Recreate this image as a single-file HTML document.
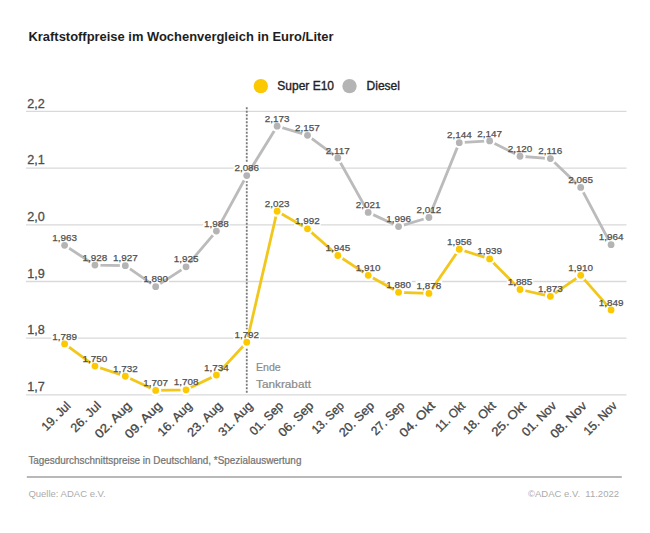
<!DOCTYPE html>
<html lang="de"><head><meta charset="utf-8"><title>Kraftstoffpreise im Wochenvergleich</title><style>html,body{margin:0;padding:0;background:#fff;width:650px;height:533px;overflow:hidden;}svg{display:block;}text{font-family:"Liberation Sans",sans-serif;}</style></head><body>
<svg width="650" height="533" viewBox="0 0 650 533">
<rect width="650" height="533" fill="#fff"/>
<text x="28.5" y="41.3" font-size="13.6" font-weight="bold" fill="#1e1e1e" textLength="305" lengthAdjust="spacingAndGlyphs">Kraftstoffpreise im Wochenvergleich in Euro/Liter</text>
<circle cx="260.8" cy="86.1" r="7.2" fill="#fcc800"/>
<text x="277.3" y="90.2" font-size="12" fill="#222" stroke="#222" stroke-width="0.35">Super E10</text>
<circle cx="349.5" cy="86.1" r="7.2" fill="#b4b4b4"/>
<text x="366.6" y="90.2" font-size="12" fill="#222" stroke="#222" stroke-width="0.35">Diesel</text>
<line x1="26" y1="111.40" x2="626.5" y2="111.40" stroke="#d9d9d9" stroke-width="1.3"/>
<text x="27.2" y="107.50" font-size="12.6" fill="#4d4d4d" stroke="#4d4d4d" stroke-width="0.3">2,2</text>
<line x1="26" y1="168.10" x2="626.5" y2="168.10" stroke="#d9d9d9" stroke-width="1.3"/>
<text x="27.2" y="164.20" font-size="12.6" fill="#4d4d4d" stroke="#4d4d4d" stroke-width="0.3">2,1</text>
<line x1="26" y1="224.80" x2="626.5" y2="224.80" stroke="#d9d9d9" stroke-width="1.3"/>
<text x="27.2" y="220.90" font-size="12.6" fill="#4d4d4d" stroke="#4d4d4d" stroke-width="0.3">2,0</text>
<line x1="26" y1="281.50" x2="626.5" y2="281.50" stroke="#d9d9d9" stroke-width="1.3"/>
<text x="27.2" y="277.60" font-size="12.6" fill="#4d4d4d" stroke="#4d4d4d" stroke-width="0.3">1,9</text>
<line x1="26" y1="338.20" x2="626.5" y2="338.20" stroke="#d9d9d9" stroke-width="1.3"/>
<text x="27.2" y="334.30" font-size="12.6" fill="#4d4d4d" stroke="#4d4d4d" stroke-width="0.3">1,8</text>
<line x1="26" y1="394.90" x2="626.5" y2="394.90" stroke="#d9d9d9" stroke-width="1.3"/>
<text x="27.2" y="391.00" font-size="12.6" fill="#4d4d4d" stroke="#4d4d4d" stroke-width="0.3">1,7</text>
<line x1="246.76" y1="107.25" x2="246.76" y2="392.7" stroke="#7a7a7a" stroke-width="1.8" stroke-dasharray="1.9 1.6"/>
<text x="256" y="371" font-size="10.6" fill="#8a8a8a" stroke="#8a8a8a" stroke-width="0.2">Ende</text>
<text x="256" y="388" font-size="10.6" fill="#8a8a8a" stroke="#8a8a8a" stroke-width="0.2" textLength="55" lengthAdjust="spacingAndGlyphs">Tankrabatt</text>
<rect x="51.35" y="232.48" width="26.5" height="10.6" fill="#fff"/>
<rect x="81.71" y="252.32" width="26.5" height="10.6" fill="#fff"/>
<rect x="112.07" y="252.89" width="26.5" height="10.6" fill="#fff"/>
<rect x="142.43" y="273.87" width="26.5" height="10.6" fill="#fff"/>
<rect x="172.79" y="254.02" width="26.5" height="10.6" fill="#fff"/>
<rect x="203.15" y="218.30" width="26.5" height="10.6" fill="#fff"/>
<rect x="233.51" y="162.74" width="26.5" height="10.6" fill="#fff"/>
<rect x="263.87" y="113.41" width="26.5" height="10.6" fill="#fff"/>
<rect x="294.23" y="122.48" width="26.5" height="10.6" fill="#fff"/>
<rect x="324.59" y="145.16" width="26.5" height="10.6" fill="#fff"/>
<rect x="354.95" y="199.59" width="26.5" height="10.6" fill="#fff"/>
<rect x="385.31" y="213.77" width="26.5" height="10.6" fill="#fff"/>
<rect x="415.67" y="204.70" width="26.5" height="10.6" fill="#fff"/>
<rect x="446.03" y="129.85" width="26.5" height="10.6" fill="#fff"/>
<rect x="476.39" y="128.15" width="26.5" height="10.6" fill="#fff"/>
<rect x="506.75" y="143.46" width="26.5" height="10.6" fill="#fff"/>
<rect x="537.11" y="145.73" width="26.5" height="10.6" fill="#fff"/>
<rect x="567.47" y="174.64" width="26.5" height="10.6" fill="#fff"/>
<rect x="597.83" y="231.91" width="26.5" height="10.6" fill="#fff"/>
<rect x="51.35" y="331.14" width="26.5" height="10.6" fill="#fff"/>
<rect x="81.71" y="353.25" width="26.5" height="10.6" fill="#fff"/>
<rect x="112.07" y="363.46" width="26.5" height="10.6" fill="#fff"/>
<rect x="142.43" y="377.63" width="26.5" height="10.6" fill="#fff"/>
<rect x="172.79" y="377.06" width="26.5" height="10.6" fill="#fff"/>
<rect x="203.15" y="362.32" width="26.5" height="10.6" fill="#fff"/>
<rect x="233.51" y="329.44" width="26.5" height="10.6" fill="#fff"/>
<rect x="263.87" y="198.46" width="26.5" height="10.6" fill="#fff"/>
<rect x="294.23" y="216.04" width="26.5" height="10.6" fill="#fff"/>
<rect x="324.59" y="242.68" width="26.5" height="10.6" fill="#fff"/>
<rect x="354.95" y="262.53" width="26.5" height="10.6" fill="#fff"/>
<rect x="385.31" y="279.54" width="26.5" height="10.6" fill="#fff"/>
<rect x="415.67" y="280.67" width="26.5" height="10.6" fill="#fff"/>
<rect x="446.03" y="236.45" width="26.5" height="10.6" fill="#fff"/>
<rect x="476.39" y="246.09" width="26.5" height="10.6" fill="#fff"/>
<rect x="506.75" y="276.70" width="26.5" height="10.6" fill="#fff"/>
<rect x="537.11" y="283.51" width="26.5" height="10.6" fill="#fff"/>
<rect x="567.47" y="262.53" width="26.5" height="10.6" fill="#fff"/>
<rect x="597.83" y="297.12" width="26.5" height="10.6" fill="#fff"/>
<polyline points="64.60,245.28 94.96,265.12 125.32,265.69 155.68,286.67 186.04,266.82 216.40,231.10 246.76,175.54 277.12,126.21 307.48,135.28 337.84,157.96 368.20,212.39 398.56,226.57 428.92,217.50 459.28,142.65 489.64,140.95 520.00,156.26 550.36,158.53 580.72,187.44 611.08,244.71" fill="none" stroke="#bbbbbb" stroke-width="2.8" stroke-linejoin="round"/>
<circle cx="64.60" cy="245.28" r="5.6" fill="#fff"/>
<circle cx="94.96" cy="265.12" r="5.6" fill="#fff"/>
<circle cx="125.32" cy="265.69" r="5.6" fill="#fff"/>
<circle cx="155.68" cy="286.67" r="5.6" fill="#fff"/>
<circle cx="186.04" cy="266.82" r="5.6" fill="#fff"/>
<circle cx="216.40" cy="231.10" r="5.6" fill="#fff"/>
<circle cx="246.76" cy="175.54" r="5.6" fill="#fff"/>
<circle cx="277.12" cy="126.21" r="5.6" fill="#fff"/>
<circle cx="307.48" cy="135.28" r="5.6" fill="#fff"/>
<circle cx="337.84" cy="157.96" r="5.6" fill="#fff"/>
<circle cx="368.20" cy="212.39" r="5.6" fill="#fff"/>
<circle cx="398.56" cy="226.57" r="5.6" fill="#fff"/>
<circle cx="428.92" cy="217.50" r="5.6" fill="#fff"/>
<circle cx="459.28" cy="142.65" r="5.6" fill="#fff"/>
<circle cx="489.64" cy="140.95" r="5.6" fill="#fff"/>
<circle cx="520.00" cy="156.26" r="5.6" fill="#fff"/>
<circle cx="550.36" cy="158.53" r="5.6" fill="#fff"/>
<circle cx="580.72" cy="187.44" r="5.6" fill="#fff"/>
<circle cx="611.08" cy="244.71" r="5.6" fill="#fff"/>
<circle cx="64.60" cy="245.28" r="3.4" fill="#b4b4b4"/>
<circle cx="94.96" cy="265.12" r="3.4" fill="#b4b4b4"/>
<circle cx="125.32" cy="265.69" r="3.4" fill="#b4b4b4"/>
<circle cx="155.68" cy="286.67" r="3.4" fill="#b4b4b4"/>
<circle cx="186.04" cy="266.82" r="3.4" fill="#b4b4b4"/>
<circle cx="216.40" cy="231.10" r="3.4" fill="#b4b4b4"/>
<circle cx="246.76" cy="175.54" r="3.4" fill="#b4b4b4"/>
<circle cx="277.12" cy="126.21" r="3.4" fill="#b4b4b4"/>
<circle cx="307.48" cy="135.28" r="3.4" fill="#b4b4b4"/>
<circle cx="337.84" cy="157.96" r="3.4" fill="#b4b4b4"/>
<circle cx="368.20" cy="212.39" r="3.4" fill="#b4b4b4"/>
<circle cx="398.56" cy="226.57" r="3.4" fill="#b4b4b4"/>
<circle cx="428.92" cy="217.50" r="3.4" fill="#b4b4b4"/>
<circle cx="459.28" cy="142.65" r="3.4" fill="#b4b4b4"/>
<circle cx="489.64" cy="140.95" r="3.4" fill="#b4b4b4"/>
<circle cx="520.00" cy="156.26" r="3.4" fill="#b4b4b4"/>
<circle cx="550.36" cy="158.53" r="3.4" fill="#b4b4b4"/>
<circle cx="580.72" cy="187.44" r="3.4" fill="#b4b4b4"/>
<circle cx="611.08" cy="244.71" r="3.4" fill="#b4b4b4"/>
<polyline points="64.60,343.94 94.96,366.05 125.32,376.26 155.68,390.43 186.04,389.86 216.40,375.12 246.76,342.24 277.12,211.26 307.48,228.84 337.84,255.48 368.20,275.33 398.56,292.34 428.92,293.47 459.28,249.25 489.64,258.89 520.00,289.50 550.36,296.31 580.72,275.33 611.08,309.92" fill="none" stroke="#f2c71c" stroke-width="2.8" stroke-linejoin="round"/>
<circle cx="64.60" cy="343.94" r="5.6" fill="#fff"/>
<circle cx="94.96" cy="366.05" r="5.6" fill="#fff"/>
<circle cx="125.32" cy="376.26" r="5.6" fill="#fff"/>
<circle cx="155.68" cy="390.43" r="5.6" fill="#fff"/>
<circle cx="186.04" cy="389.86" r="5.6" fill="#fff"/>
<circle cx="216.40" cy="375.12" r="5.6" fill="#fff"/>
<circle cx="246.76" cy="342.24" r="5.6" fill="#fff"/>
<circle cx="277.12" cy="211.26" r="5.6" fill="#fff"/>
<circle cx="307.48" cy="228.84" r="5.6" fill="#fff"/>
<circle cx="337.84" cy="255.48" r="5.6" fill="#fff"/>
<circle cx="368.20" cy="275.33" r="5.6" fill="#fff"/>
<circle cx="398.56" cy="292.34" r="5.6" fill="#fff"/>
<circle cx="428.92" cy="293.47" r="5.6" fill="#fff"/>
<circle cx="459.28" cy="249.25" r="5.6" fill="#fff"/>
<circle cx="489.64" cy="258.89" r="5.6" fill="#fff"/>
<circle cx="520.00" cy="289.50" r="5.6" fill="#fff"/>
<circle cx="550.36" cy="296.31" r="5.6" fill="#fff"/>
<circle cx="580.72" cy="275.33" r="5.6" fill="#fff"/>
<circle cx="611.08" cy="309.92" r="5.6" fill="#fff"/>
<circle cx="64.60" cy="343.94" r="3.4" fill="#fcc800"/>
<circle cx="94.96" cy="366.05" r="3.4" fill="#fcc800"/>
<circle cx="125.32" cy="376.26" r="3.4" fill="#fcc800"/>
<circle cx="155.68" cy="390.43" r="3.4" fill="#fcc800"/>
<circle cx="186.04" cy="389.86" r="3.4" fill="#fcc800"/>
<circle cx="216.40" cy="375.12" r="3.4" fill="#fcc800"/>
<circle cx="246.76" cy="342.24" r="3.4" fill="#fcc800"/>
<circle cx="277.12" cy="211.26" r="3.4" fill="#fcc800"/>
<circle cx="307.48" cy="228.84" r="3.4" fill="#fcc800"/>
<circle cx="337.84" cy="255.48" r="3.4" fill="#fcc800"/>
<circle cx="368.20" cy="275.33" r="3.4" fill="#fcc800"/>
<circle cx="398.56" cy="292.34" r="3.4" fill="#fcc800"/>
<circle cx="428.92" cy="293.47" r="3.4" fill="#fcc800"/>
<circle cx="459.28" cy="249.25" r="3.4" fill="#fcc800"/>
<circle cx="489.64" cy="258.89" r="3.4" fill="#fcc800"/>
<circle cx="520.00" cy="289.50" r="3.4" fill="#fcc800"/>
<circle cx="550.36" cy="296.31" r="3.4" fill="#fcc800"/>
<circle cx="580.72" cy="275.33" r="3.4" fill="#fcc800"/>
<circle cx="611.08" cy="309.92" r="3.4" fill="#fcc800"/>
<text x="64.60" y="240.88" font-size="9.9" fill="#505050" stroke="#505050" stroke-width="0.25" text-anchor="middle">1,963</text>
<text x="94.96" y="260.72" font-size="9.9" fill="#505050" stroke="#505050" stroke-width="0.25" text-anchor="middle">1,928</text>
<text x="125.32" y="261.29" font-size="9.9" fill="#505050" stroke="#505050" stroke-width="0.25" text-anchor="middle">1,927</text>
<text x="155.68" y="282.27" font-size="9.9" fill="#505050" stroke="#505050" stroke-width="0.25" text-anchor="middle">1,890</text>
<text x="186.04" y="262.42" font-size="9.9" fill="#505050" stroke="#505050" stroke-width="0.25" text-anchor="middle">1,925</text>
<text x="216.40" y="226.70" font-size="9.9" fill="#505050" stroke="#505050" stroke-width="0.25" text-anchor="middle">1,988</text>
<text x="246.76" y="171.14" font-size="9.9" fill="#505050" stroke="#505050" stroke-width="0.25" text-anchor="middle">2,086</text>
<text x="277.12" y="121.81" font-size="9.9" fill="#505050" stroke="#505050" stroke-width="0.25" text-anchor="middle">2,173</text>
<text x="307.48" y="130.88" font-size="9.9" fill="#505050" stroke="#505050" stroke-width="0.25" text-anchor="middle">2,157</text>
<text x="337.84" y="153.56" font-size="9.9" fill="#505050" stroke="#505050" stroke-width="0.25" text-anchor="middle">2,117</text>
<text x="368.20" y="207.99" font-size="9.9" fill="#505050" stroke="#505050" stroke-width="0.25" text-anchor="middle">2,021</text>
<text x="398.56" y="222.17" font-size="9.9" fill="#505050" stroke="#505050" stroke-width="0.25" text-anchor="middle">1,996</text>
<text x="428.92" y="213.10" font-size="9.9" fill="#505050" stroke="#505050" stroke-width="0.25" text-anchor="middle">2,012</text>
<text x="459.28" y="138.25" font-size="9.9" fill="#505050" stroke="#505050" stroke-width="0.25" text-anchor="middle">2,144</text>
<text x="489.64" y="136.55" font-size="9.9" fill="#505050" stroke="#505050" stroke-width="0.25" text-anchor="middle">2,147</text>
<text x="520.00" y="151.86" font-size="9.9" fill="#505050" stroke="#505050" stroke-width="0.25" text-anchor="middle">2,120</text>
<text x="550.36" y="154.13" font-size="9.9" fill="#505050" stroke="#505050" stroke-width="0.25" text-anchor="middle">2,116</text>
<text x="580.72" y="183.04" font-size="9.9" fill="#505050" stroke="#505050" stroke-width="0.25" text-anchor="middle">2,065</text>
<text x="611.08" y="240.31" font-size="9.9" fill="#505050" stroke="#505050" stroke-width="0.25" text-anchor="middle">1,964</text>
<text x="64.60" y="339.54" font-size="9.9" fill="#505050" stroke="#505050" stroke-width="0.25" text-anchor="middle">1,789</text>
<text x="94.96" y="361.65" font-size="9.9" fill="#505050" stroke="#505050" stroke-width="0.25" text-anchor="middle">1,750</text>
<text x="125.32" y="371.86" font-size="9.9" fill="#505050" stroke="#505050" stroke-width="0.25" text-anchor="middle">1,732</text>
<text x="155.68" y="386.03" font-size="9.9" fill="#505050" stroke="#505050" stroke-width="0.25" text-anchor="middle">1,707</text>
<text x="186.04" y="385.46" font-size="9.9" fill="#505050" stroke="#505050" stroke-width="0.25" text-anchor="middle">1,708</text>
<text x="216.40" y="370.72" font-size="9.9" fill="#505050" stroke="#505050" stroke-width="0.25" text-anchor="middle">1,734</text>
<text x="246.76" y="337.84" font-size="9.9" fill="#505050" stroke="#505050" stroke-width="0.25" text-anchor="middle">1,792</text>
<text x="277.12" y="206.86" font-size="9.9" fill="#505050" stroke="#505050" stroke-width="0.25" text-anchor="middle">2,023</text>
<text x="307.48" y="224.44" font-size="9.9" fill="#505050" stroke="#505050" stroke-width="0.25" text-anchor="middle">1,992</text>
<text x="337.84" y="251.08" font-size="9.9" fill="#505050" stroke="#505050" stroke-width="0.25" text-anchor="middle">1,945</text>
<text x="368.20" y="270.93" font-size="9.9" fill="#505050" stroke="#505050" stroke-width="0.25" text-anchor="middle">1,910</text>
<text x="398.56" y="287.94" font-size="9.9" fill="#505050" stroke="#505050" stroke-width="0.25" text-anchor="middle">1,880</text>
<text x="428.92" y="289.07" font-size="9.9" fill="#505050" stroke="#505050" stroke-width="0.25" text-anchor="middle">1,878</text>
<text x="459.28" y="244.85" font-size="9.9" fill="#505050" stroke="#505050" stroke-width="0.25" text-anchor="middle">1,956</text>
<text x="489.64" y="254.49" font-size="9.9" fill="#505050" stroke="#505050" stroke-width="0.25" text-anchor="middle">1,939</text>
<text x="520.00" y="285.10" font-size="9.9" fill="#505050" stroke="#505050" stroke-width="0.25" text-anchor="middle">1,885</text>
<text x="550.36" y="291.91" font-size="9.9" fill="#505050" stroke="#505050" stroke-width="0.25" text-anchor="middle">1,873</text>
<text x="580.72" y="270.93" font-size="9.9" fill="#505050" stroke="#505050" stroke-width="0.25" text-anchor="middle">1,910</text>
<text x="611.08" y="305.52" font-size="9.9" fill="#505050" stroke="#505050" stroke-width="0.25" text-anchor="middle">1,849</text>
<text x="0" y="0" font-size="12.3" fill="#444" stroke="#444" stroke-width="0.3" text-anchor="end" textLength="35.1" lengthAdjust="spacingAndGlyphs" transform="translate(71.40,406.6) rotate(-45)">19. Jul</text>
<text x="0" y="0" font-size="12.3" fill="#444" stroke="#444" stroke-width="0.3" text-anchor="end" textLength="37.2" lengthAdjust="spacingAndGlyphs" transform="translate(101.76,406.6) rotate(-45)">26. Jul</text>
<text x="0" y="0" font-size="12.3" fill="#444" stroke="#444" stroke-width="0.3" text-anchor="end" textLength="45.8" lengthAdjust="spacingAndGlyphs" transform="translate(132.12,406.6) rotate(-45)">02. Aug</text>
<text x="0" y="0" font-size="12.3" fill="#444" stroke="#444" stroke-width="0.3" text-anchor="end" textLength="46.2" lengthAdjust="spacingAndGlyphs" transform="translate(162.48,406.6) rotate(-45)">09. Aug</text>
<text x="0" y="0" font-size="12.3" fill="#444" stroke="#444" stroke-width="0.3" text-anchor="end" textLength="43.0" lengthAdjust="spacingAndGlyphs" transform="translate(192.84,406.6) rotate(-45)">16. Aug</text>
<text x="0" y="0" font-size="12.3" fill="#444" stroke="#444" stroke-width="0.3" text-anchor="end" textLength="43.8" lengthAdjust="spacingAndGlyphs" transform="translate(223.20,406.6) rotate(-45)">23. Aug</text>
<text x="0" y="0" font-size="12.3" fill="#444" stroke="#444" stroke-width="0.3" text-anchor="end" textLength="43.0" lengthAdjust="spacingAndGlyphs" transform="translate(253.56,406.6) rotate(-45)">31. Aug</text>
<text x="0" y="0" font-size="12.3" fill="#444" stroke="#444" stroke-width="0.3" text-anchor="end" textLength="41.6" lengthAdjust="spacingAndGlyphs" transform="translate(283.92,406.6) rotate(-45)">01. Sep</text>
<text x="0" y="0" font-size="12.3" fill="#444" stroke="#444" stroke-width="0.3" text-anchor="end" textLength="43.8" lengthAdjust="spacingAndGlyphs" transform="translate(314.28,406.6) rotate(-45)">06. Sep</text>
<text x="0" y="0" font-size="12.3" fill="#444" stroke="#444" stroke-width="0.3" text-anchor="end" textLength="39.3" lengthAdjust="spacingAndGlyphs" transform="translate(344.64,406.6) rotate(-45)">13. Sep</text>
<text x="0" y="0" font-size="12.3" fill="#444" stroke="#444" stroke-width="0.3" text-anchor="end" textLength="43.8" lengthAdjust="spacingAndGlyphs" transform="translate(375.00,406.6) rotate(-45)">20. Sep</text>
<text x="0" y="0" font-size="12.3" fill="#444" stroke="#444" stroke-width="0.3" text-anchor="end" textLength="41.6" lengthAdjust="spacingAndGlyphs" transform="translate(405.36,406.6) rotate(-45)">27. Sep</text>
<text x="0" y="0" font-size="12.3" fill="#444" stroke="#444" stroke-width="0.3" text-anchor="end" textLength="44.4" lengthAdjust="spacingAndGlyphs" transform="translate(435.72,406.6) rotate(-45)">04. Okt</text>
<text x="0" y="0" font-size="12.3" fill="#444" stroke="#444" stroke-width="0.3" text-anchor="end" textLength="36.5" lengthAdjust="spacingAndGlyphs" transform="translate(466.08,406.6) rotate(-45)">11. Okt</text>
<text x="0" y="0" font-size="12.3" fill="#444" stroke="#444" stroke-width="0.3" text-anchor="end" textLength="40.2" lengthAdjust="spacingAndGlyphs" transform="translate(496.44,406.6) rotate(-45)">18. Okt</text>
<text x="0" y="0" font-size="12.3" fill="#444" stroke="#444" stroke-width="0.3" text-anchor="end" textLength="43.0" lengthAdjust="spacingAndGlyphs" transform="translate(526.80,406.6) rotate(-45)">25. Okt</text>
<text x="0" y="0" font-size="12.3" fill="#444" stroke="#444" stroke-width="0.3" text-anchor="end" textLength="43.0" lengthAdjust="spacingAndGlyphs" transform="translate(557.16,406.6) rotate(-45)">01. Nov</text>
<text x="0" y="0" font-size="12.3" fill="#444" stroke="#444" stroke-width="0.3" text-anchor="end" textLength="45.8" lengthAdjust="spacingAndGlyphs" transform="translate(587.52,406.6) rotate(-45)">08. Nov</text>
<text x="0" y="0" font-size="12.3" fill="#444" stroke="#444" stroke-width="0.3" text-anchor="end" textLength="41.6" lengthAdjust="spacingAndGlyphs" transform="translate(617.88,406.6) rotate(-45)">15. Nov</text>
<text x="28.4" y="463.8" font-size="10" fill="#737373" stroke="#737373" stroke-width="0.22" textLength="273" lengthAdjust="spacingAndGlyphs">Tagesdurchschnittspreise in Deutschland, *Spezialauswertung</text>
<line x1="26.8" y1="477" x2="621.8" y2="477" stroke="#a0a0a0" stroke-width="1.3"/>
<text x="28.4" y="496.5" font-size="9.5" fill="#ababab">Quelle: ADAC e.V.</text>
<text x="619" y="496.5" font-size="9.5" fill="#ababab" text-anchor="end" xml:space="preserve">©ADAC e.V.  11.2022</text>
</svg></body></html>
